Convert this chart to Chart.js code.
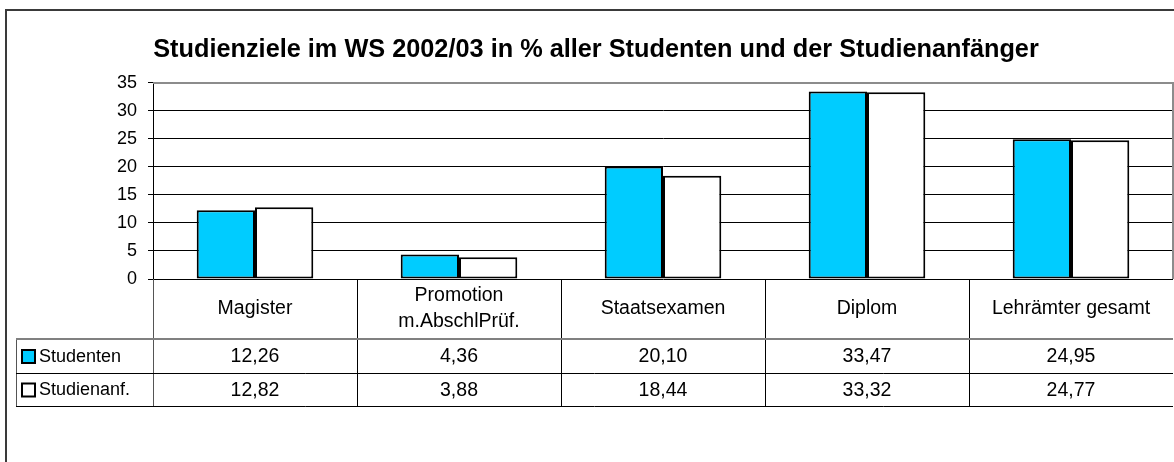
<!DOCTYPE html>
<html>
<head>
<meta charset="utf-8">
<script src="https://cdn.jsdelivr.net/npm/chart.js@4/dist/chart.umd.min.js"></script>
<style>
html,body{margin:0;padding:0;background:#fff;}
canvas{display:block;}
</style>
</head>
<body>
<canvas id="c" width="1174" height="462"></canvas>
<script>
const titleText = 'Studienziele im WS 2002/03 in % aller Studenten und der Studienanfänger';
const categories = [['Magister'], ['Promotion', 'm.AbschlPrüf.'], ['Staatsexamen'], ['Diplom'], ['Lehrämter gesamt']];
const seriesNames = ['Studenten', 'Studienanf.'];
const studenten = [12.26, 4.36, 20.10, 33.47, 24.95];
const studienanf = [12.82, 3.88, 18.44, 33.32, 24.77];
const yTicks = [0, 5, 10, 15, 20, 25, 30, 35];

const FONT = "'Liberation Sans', Arial, sans-serif";
const colors = ['#00CCFF', '#FFFFFF'];

const tablePlugin = {
  id: 'dataTable',
  afterDraw(chart) {
    const ctx = chart.ctx;
    const area = chart.chartArea;
    const xs = chart.scales.x;
    const n = categories.length;
    const colW = (area.right - area.left) / n;
    const top = area.bottom;
    const rowCat = top + 60;
    const row1 = rowCat + 34;
    const row2 = row1 + 33;
    const legLeft = 16;
    ctx.save();
    // outer frame
    ctx.strokeStyle = '#3a3a3a';
    ctx.lineWidth = 2;
    ctx.beginPath();
    ctx.moveTo(6, 463); ctx.lineTo(6, 10); ctx.lineTo(1175, 10);
    ctx.stroke();
    // plot area top and right border (gray)
    ctx.strokeStyle = '#8c8c8c';
    ctx.lineWidth = 2;
    ctx.beginPath();
    ctx.moveTo(area.left, area.top); ctx.lineTo(area.right, area.top); ctx.lineTo(area.right, area.bottom);
    ctx.stroke();
    // table lines
    ctx.lineWidth = 1;
    ctx.strokeStyle = '#000';
    for (let i = 0; i < n - 1; i++) {
      const cx = xs.getPixelForValue(i);
      const x = Math.round(cx + colW / 2) + 0.5;
      ctx.beginPath(); ctx.moveTo(x, top); ctx.lineTo(x, row2); ctx.stroke();
    }
    ctx.strokeStyle = '#555';
    ctx.beginPath(); ctx.moveTo(area.left + 0.5, top); ctx.lineTo(area.left + 0.5, row2); ctx.stroke();
    ctx.beginPath(); ctx.moveTo(legLeft + 0.5, rowCat); ctx.lineTo(legLeft + 0.5, row2); ctx.stroke();
    ctx.strokeStyle = '#808080';
    ctx.lineWidth = 2;
    ctx.beginPath(); ctx.moveTo(legLeft, rowCat); ctx.lineTo(area.right, rowCat); ctx.stroke();
    ctx.strokeStyle = '#000';
    ctx.lineWidth = 1;
    ctx.beginPath(); ctx.moveTo(legLeft, row1 + 0.5); ctx.lineTo(area.right, row1 + 0.5); ctx.stroke();
    ctx.beginPath(); ctx.moveTo(legLeft, row2 + 0.5); ctx.lineTo(area.right, row2 + 0.5); ctx.stroke();
    // category labels
    ctx.fillStyle = '#000';
    ctx.font = '19.5px ' + FONT;
    ctx.textAlign = 'center';
    ctx.textBaseline = 'middle';
    const catMid = (top + rowCat) / 2;
    for (let i = 0; i < n; i++) {
      const cx = xs.getPixelForValue(i);
      const lines = categories[i];
      const lh = 26;
      const y0 = catMid - (lines.length - 1) * lh / 2;
      lines.forEach((l, j) => ctx.fillText(l, cx, y0 + j * lh));
    }
    // values
    const fmt = v => v.toFixed(2).replace('.', ',');
    const rows = [[studenten, (rowCat + row1) / 2], [studienanf, (row1 + row2) / 2]];
    rows.forEach(([arr, y], r) => {
      ctx.font = '19.5px ' + FONT;
      ctx.textAlign = 'center';
      for (let i = 0; i < n; i++) {
        ctx.fillText(fmt(arr[i]), xs.getPixelForValue(i), y + 1);
      }
      ctx.fillStyle = colors[r];
      ctx.fillRect(22, y - 6, 13, 13);
      ctx.strokeStyle = '#000';
      ctx.lineWidth = 2;
      ctx.strokeRect(22, y - 6, 13, 13);
      ctx.fillStyle = '#000';
      ctx.textAlign = 'left';
      ctx.font = '18px ' + FONT;
      ctx.fillText(seriesNames[r], 39, y + 1);
    });
    ctx.restore();
  }
};

new Chart(document.getElementById('c'), {
  type: 'bar',
  data: {
    labels: categories.map(c => c.join(' ')),
    datasets: [
      { label: seriesNames[0], data: studenten, backgroundColor: colors[0], borderColor: '#000', borderWidth: 2, borderSkipped: false },
      { label: seriesNames[1], data: studienanf, backgroundColor: colors[1], borderColor: '#000', borderWidth: 2, borderSkipped: false }
    ]
  },
  options: {
    responsive: false,
    animation: false,
    events: [],
    categoryPercentage: 2 / 3.5,
    barPercentage: 1.0,
    layout: { padding: { left: 19, right: 1, top: 0, bottom: 183 } },
    plugins: {
      legend: { display: false },
      tooltip: { enabled: false },
      title: {
        display: true,
        text: titleText,
        color: '#000',
        font: { family: FONT, size: 25.3, weight: 'bold' },
        padding: { top: 35, bottom: 17.6 }
      }
    },
    scales: {
      x: { display: false },
      y: {
        min: 0, max: 35,
        afterBuildTicks(scale) { scale.ticks = yTicks.map(v => ({ value: v })); },
        afterFit(scale) { scale.width = 134; },
        ticks: { color: '#000', font: { family: FONT, size: 18 }, padding: 11 },
        grid: {
          color: ctx => (ctx.tick && ctx.tick.value === 35 ? 'rgba(0,0,0,0)' : '#000'),
          lineWidth: 1,
          tickLength: 5,
          tickColor: '#000'
        },
        border: { color: '#000', width: 1 }
      }
    }
  },
  plugins: [tablePlugin]
});
</script>
</body>
</html>
